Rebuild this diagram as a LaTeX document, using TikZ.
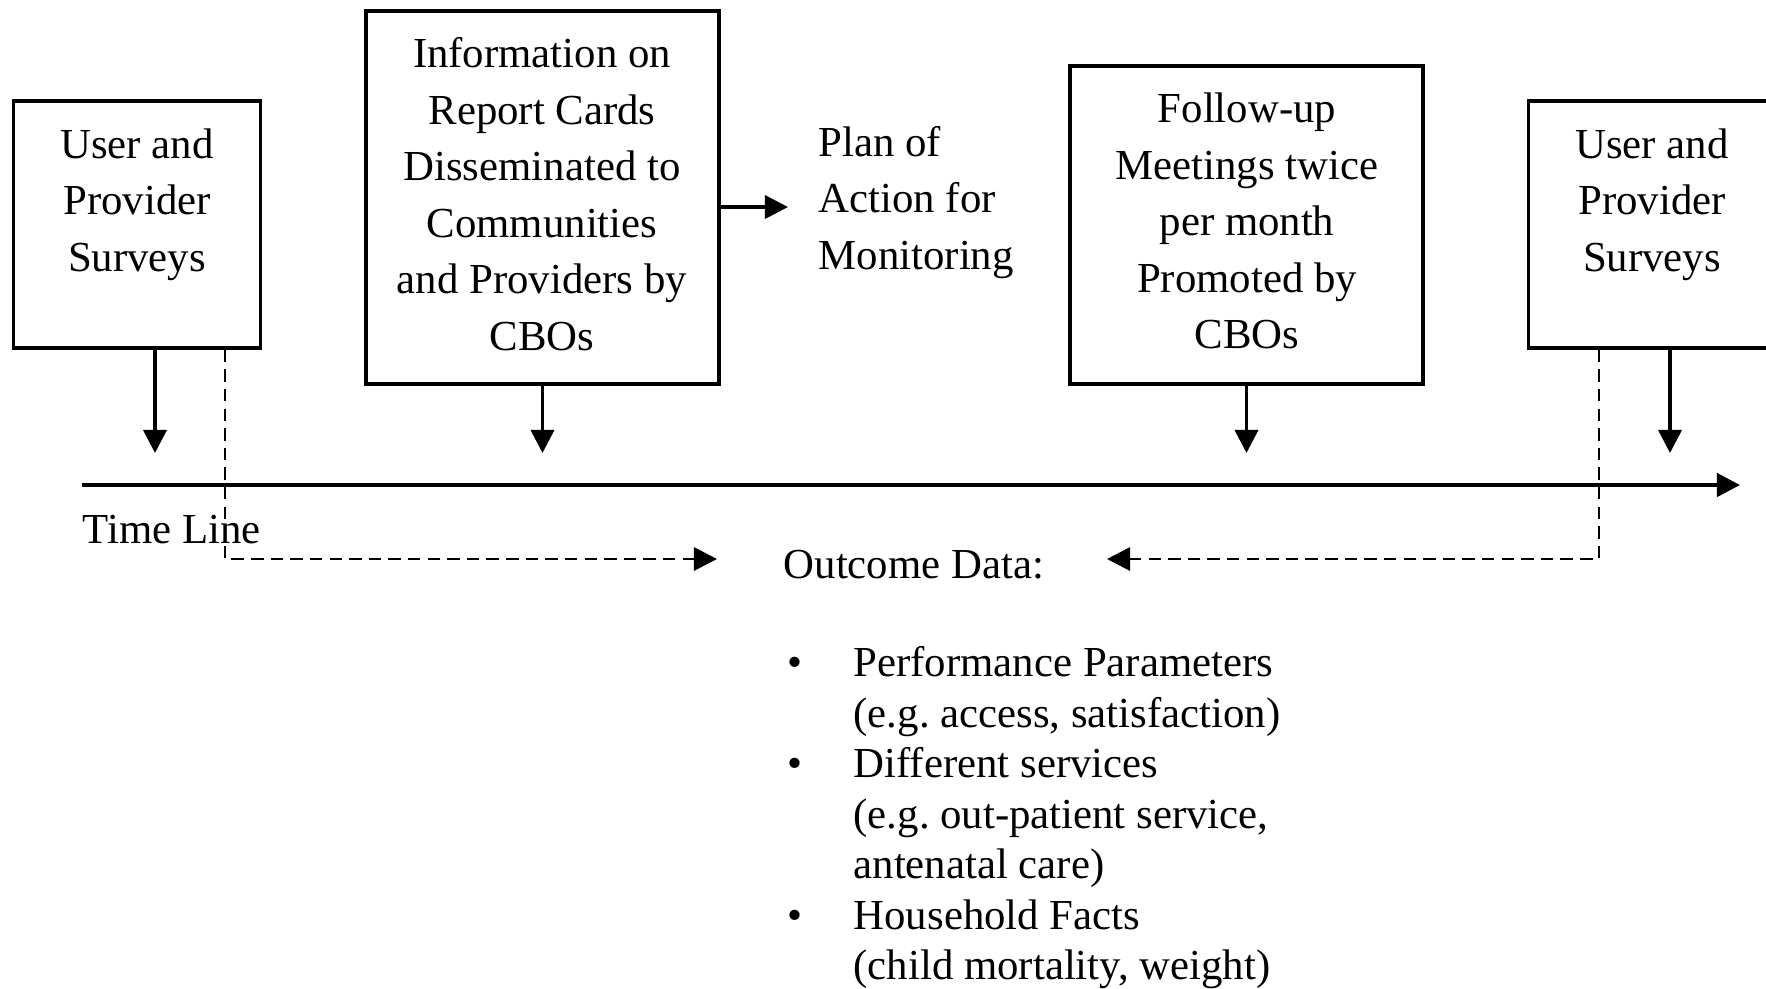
\documentclass[tikz,border=0pt]{standalone}
\usepackage{fontspec}
\setmainfont{Liberation Serif}
\usetikzlibrary{arrows.meta}
\begin{document}
\begin{tikzpicture}[x=0.2804pt,y=-0.2804pt,
  every node/.style={font=\fontsize{12}{15.84}\selectfont},
  box/.style={draw,line width=0.9pt,inner sep=0pt},
  lbl/.style={align=center,inner sep=0pt},
  arr/.style={line width=1pt,-{Triangle[length=6.5pt,width=6.5pt]}},
  darr/.style={line width=0.8pt,dash pattern=on 3.5pt off 2pt,-{Triangle[length=6.5pt,width=6.5pt]}},
]
\useasboundingbox (0,0) rectangle (1766,988);
\clip (0,0) rectangle (1766,988);
% boxes
\node[box,minimum width=69.3pt,minimum height=69.3pt] (b1) at (137.25,224.5) {};
\node[box,minimum width=99pt,minimum height=104.6pt] (b2) at (542.5,197.5) {};
\node[box,minimum width=99pt,minimum height=89.2pt] (b3) at (1246.5,225) {};
\node[box,minimum width=69.3pt,minimum height=69.3pt] (b4) at (1652,224.5) {};
% box texts
\node[lbl] (t1) at (137,204.5) {User and\\Provider\\Surveys};
\node[lbl] (t2) at (542,194) {Information on\\Report Cards\\Disseminated to\\Communities\\and Providers by\\CBOs};
\node[lbl] (t3) at (1247,221) {Follow-up\\Meetings twice\\per month\\Promoted by\\CBOs};
\node[lbl] (t4) at (1652,204.5) {User and\\Provider\\Surveys};
\node[align=left,inner sep=0pt,anchor=west] (plan) at (818,202.5) {Plan of\\Action for\\Monitoring};
\node[inner sep=0pt,anchor=west] (tl) at (82,530) {Time Line};
\node[inner sep=0pt,anchor=west] (od) at (783,565) {Outcome Data:};
\node[align=left,inner sep=0pt,anchor=west,font=\fontsize{12}{14.16}\selectfont] (list) at (787,818)
  {\makebox[18.5pt][l]{\textbullet}Performance Parameters\\
   \hspace*{18.5pt}(e.g.\ access, satisfaction)\\
   \makebox[18.5pt][l]{\textbullet}Different services\\
   \hspace*{18.5pt}(e.g.\ out-patient service,\\
   \hspace*{18.5pt}antenatal care)\\
   \makebox[18.5pt][l]{\textbullet}Household Facts\\
   \hspace*{18.5pt}(child mortality, weight)};
% coordinates
\coordinate (tl0) at (82,485);
\coordinate (tl1) at (1740,485);
\coordinate (e1) at (155,453);
\coordinate (e2) at (542.5,453);
\coordinate (e3) at (1246.5,453);
\coordinate (e4) at (1670,453);
\coordinate (pa) at (788,207);
\coordinate (d1) at (225,559);
\coordinate (o1) at (717,559);
\coordinate (d2) at (1599,559);
\coordinate (o2) at (1107,559);
% connectors
\draw[line width=1.2pt,-{Triangle[length=6.5pt,width=6.5pt]}] (tl0) -- (tl1);
\draw[arr] (b1.south -| e1) -- (e1);
\draw[arr] (b2.south) -- (e2);
\draw[arr] (b3.south) -- (e3);
\draw[arr] (b4.south -| e4) -- (e4);
\draw[arr] (b2.east |- pa) -- (pa);
\draw[darr] (b1.south -| d1) -- (d1) -- (o1);
\draw[darr] (b4.south -| d2) -- (d2) -- (o2);
\end{tikzpicture}
\end{document}
